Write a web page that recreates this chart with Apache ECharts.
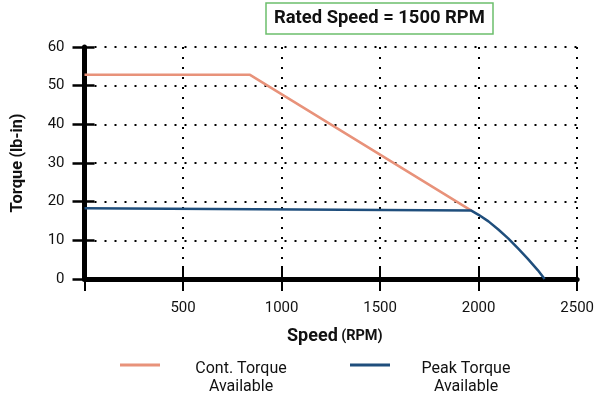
<!DOCTYPE html>
<html>
<head>
<meta charset="utf-8">
<script src="https://cdn.jsdelivr.net/npm/echarts@6/dist/echarts.min.js"></script>
<style>
html,body{margin:0;padding:0;background:#fff;}
#chart{width:597px;height:398px;}
</style>
</head>
<body>
<div id="chart"></div>
<script>
// Speed / torque envelope of the motor
const speedTicks = [0, 500, 1000, 1500, 2000, 2500];
const torqueTicks = [0, 10, 20, 30, 40, 50, 60];

// [speed RPM, torque lb-in]
const contTorque = [[0, 52.8], [840, 52.8], [1963, 17.7]];
const peakTorque = [
  [0, 18.3], [1963, 17.7], [2000, 16.6], [2050, 14.9], [2100, 12.8],
  [2150, 10.5], [2200, 7.9], [2250, 5.2], [2300, 2.3], [2335, 0]
];

const seriesNames = ['Cont. Torque\nAvailable', 'Peak Torque\nAvailable'];
const ratedText = 'Rated Speed = 1500 RPM';

const FONT = 'Roboto, "Noto Sans", sans-serif';
const INK = '#111';
const dotted = { color: '#000', width: 2, type: [2, 8] };

function legendFor(name, left, w) {
  return {
    data: [name],
    left: left, top: 361, padding: 0,
    itemWidth: 40, itemHeight: 3, icon: 'rect',
    selectedMode: false,
    formatter: n => n.split('\n').map(s => '{t|' + s + '}').join('\n'),
    textStyle: {
      padding: [26, 0, 0, 0],
      rich: { t: { width: w, align: 'center', fontFamily: FONT, fontSize: 16, lineHeight: 18, color: INK } }
    }
  };
}

const chart = echarts.init(document.getElementById('chart'));
chart.setOption({
  animation: false,
  backgroundColor: '#fff',
  title: {
    text: ratedText,
    left: 266, top: 3,
    padding: [6, 8],
    borderColor: '#6cbf6c', borderWidth: 1.5,
    textStyle: { fontFamily: FONT, fontWeight: 'bold', fontSize: 18.4, lineHeight: 19, color: INK }
  },
  legend: [legendFor(seriesNames[0], 120, 152), legendFor(seriesNames[1], 350, 142)],
  grid: { left: 84.5, right: 19.5, top: 47, bottom: 119, containLabel: false },
  xAxis: [{
    type: 'value', min: 0, max: 2500, interval: 500,
    name: '{b|Speed} {s|(RPM)}', nameLocation: 'middle', nameGap: 48,
    nameTextStyle: { padding: [0, 0, 0, 8], rich: {
      b: { fontFamily: FONT, fontWeight: 'bold', fontSize: 18, color: INK },
      s: { fontFamily: FONT, fontWeight: 'bold', fontSize: 14.5, color: INK }
    } },
    axisLine: { lineStyle: { color: '#000', width: 5 } },
    axisTick: { length: 12, lineStyle: { color: '#000', width: 2 } },
    axisLabel: { margin: 22, fontFamily: FONT, fontSize: 15, color: INK,
      formatter: v => v === 0 ? '' : String(v) },
    splitLine: { show: true, lineStyle: dotted }
  }, {
    type: 'value', min: 0, max: 2500, interval: 500, position: 'bottom',
    axisLine: { show: false },
    axisTick: { inside: true, length: 13, lineStyle: { color: '#000', width: 2 } },
    axisLabel: { show: false }, splitLine: { show: false }
  }],
  yAxis: [{
    type: 'value', min: 0, max: 60, interval: 10,
    name: '{b|Torque} {s|(lb-in)}', nameLocation: 'middle', nameGap: 58,
    nameTextStyle: { rich: {
      b: { fontFamily: FONT, fontWeight: 'bold', fontSize: 16.5, color: INK },
      s: { fontFamily: FONT, fontWeight: 'bold', fontSize: 16, color: INK }
    } },
    axisLine: { show: true, lineStyle: { color: '#000', width: 5 } },
    axisTick: { show: true, length: 12, lineStyle: { color: '#000', width: 2.5 } },
    axisLabel: { margin: 20, fontFamily: FONT, fontSize: 15, color: INK },
    splitLine: { show: true, lineStyle: dotted }
  }, {
    type: 'value', min: 0, max: 60, interval: 10, position: 'left',
    axisLine: { show: false },
    axisTick: { show: true, inside: true, length: 10, lineStyle: { color: '#000', width: 2.5 } },
    axisLabel: { show: false }, splitLine: { show: false }
  }],
  series: [{
    name: seriesNames[0], type: 'line', data: contTorque,
    showSymbol: false, symbol: 'none', z: 3,
    itemStyle: { color: '#e8927a' },
    lineStyle: { color: '#e8927a', width: 2.5 }
  }, {
    name: seriesNames[1], type: 'line', data: peakTorque,
    showSymbol: false, symbol: 'none', z: 4,
    itemStyle: { color: '#1f4e7c' },
    lineStyle: { color: '#1f4e7c', width: 2.5 }
  }]
});
</script>
</body>
</html>
